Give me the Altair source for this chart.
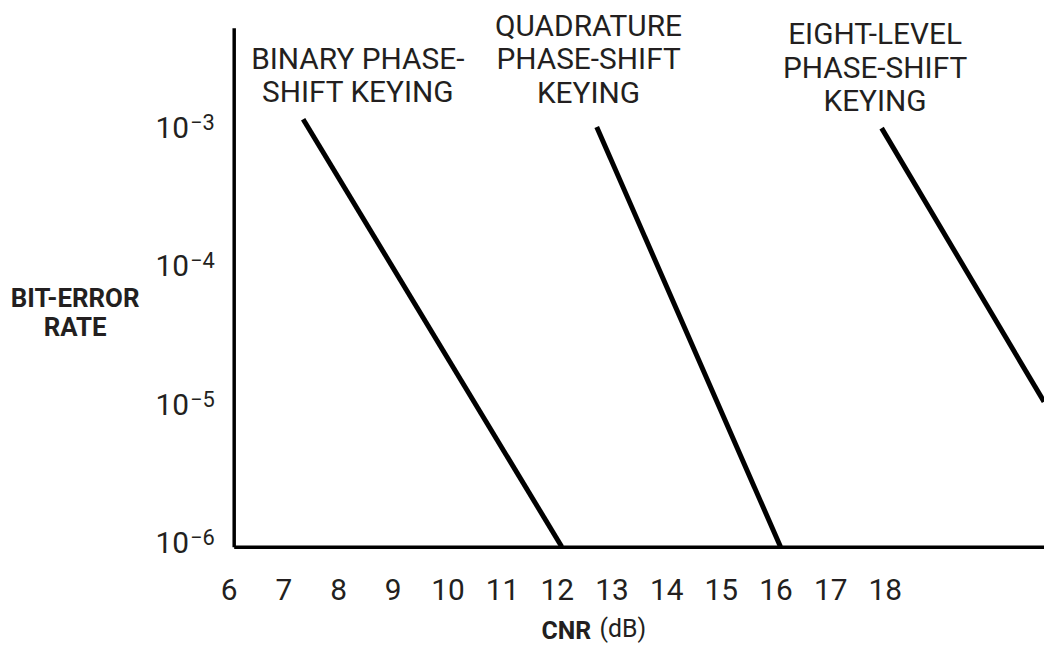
import altair as alt
import pandas as pd

# ---- data ----
series_names = ["BPSK", "QPSK", "8PSK"]
cnr_start = [7.27, 12.64, 17.85]
ber_start = [1.24e-3, 1.09e-3, 1.07e-3]
cnr_end = [12.0, 16.0, 20.82]
ber_end = [1.0e-6, 1.0e-6, 1.12e-5]

label_text = [
    "BINARY PHASE-\nSHIFT KEYING",
    "QUADRATURE\nPHASE-SHIFT\nKEYING",
    "EIGHT-LEVEL\nPHASE-SHIFT\nKEYING",
]
label_cnr = [8.27, 12.49, 17.73]
label_ber = [3.35e-3, 5.8e-3, 5.07e-3]  # centre of each label's first line

x_ticks = [6, 7, 8, 9, 10, 11, 12, 13, 14, 15, 16, 17, 18]
y_ticks = [1e-6, 1e-5, 1e-4, 1e-3]
y_tick_base = ["10", "10", "10", "10"]
y_tick_exp = ["−6", "−5", "−4", "−3"]

FONT = "Roboto"
INK = "#231f20"
W, H = 815, 522

rows = []
for i, s in enumerate(series_names):
    rows.append({"series": s, "pt": 0, "cnr": cnr_start[i], "ber": ber_start[i]})
    rows.append({"series": s, "pt": 1, "cnr": cnr_end[i], "ber": ber_end[i]})
lines_df = pd.DataFrame(rows)
labels_df = pd.DataFrame({"text": label_text, "cnr": label_cnr, "ber": label_ber})
yt_df = pd.DataFrame({"ber": y_ticks, "base": y_tick_base, "exp": y_tick_exp})

x_scale = alt.Scale(domain=[6, 20.82], nice=False, zero=False)
y_scale = alt.Scale(type="log", domain=[1e-6, 0.0057], nice=False)

x_axis = alt.Axis(
    values=x_ticks, format="d", title="CNR", grid=False, ticks=False, tickSize=0,
    labelFontSize=30, labelFont=FONT, labelColor=INK, labelPadding=44,
    labelBaseline="middle", labelFlush=False, labelOffset=-5,
    labelOverlap=False, labelBound=False,
    domainColor="black", domainWidth=3.5,
    titleFont=FONT, titleFontSize=25, titleFontWeight="bold", titleColor=INK,
    titleX=334, titleY=84, titleAlign="center", titleBaseline="middle",
)
y_axis = alt.Axis(
    values=y_ticks, labels=False, title=["BIT-ERROR", "RATE"],
    grid=False, ticks=False, tickSize=0,
    domainColor="black", domainWidth=3.5,
    titleFont=FONT, titleFontSize=26, titleFontWeight="bold", titleColor=INK,
    titleAngle=0, titleX=-160, titleY=272, titleAlign="center",
    titleBaseline="middle", titleLineHeight=30,
)

lines = alt.Chart(lines_df).mark_line(color="black", strokeWidth=5, clip=True).encode(
    x=alt.X("cnr:Q", scale=x_scale, axis=x_axis),
    y=alt.Y("ber:Q", scale=y_scale, axis=y_axis),
    detail="series:N",
    order="pt:Q",
)

texts = alt.Chart(labels_df).mark_text(
    font=FONT, fontSize=30, color=INK, align="center", baseline="middle",
    lineBreak="\n", lineHeight=34,
).encode(
    x=alt.X("cnr:Q", scale=x_scale),
    y=alt.Y("ber:Q", scale=y_scale),
    text="text:N",
)

# y tick labels as 10 with a raised exponent
ybase = alt.Chart(yt_df).mark_text(
    font=FONT, fontSize=30, color=INK, align="right", baseline="middle", dy=-3,
).encode(
    x=alt.value(-45),
    y=alt.Y("ber:Q", scale=y_scale),
    text="base:N",
)
yexp = alt.Chart(yt_df).mark_text(
    font=FONT, fontSize=22, color=INK, align="left", baseline="middle", dy=-9,
).encode(
    x=alt.value(-44),
    y=alt.Y("ber:Q", scale=y_scale),
    text="exp:N",
)

chart = alt.layer(lines, texts, ybase, yexp).properties(
    width=W, height=H,
    background="white",
    title=alt.TitleParams(
        text="(dB)", orient="bottom", anchor="start", frame="group",
        dx=368, dy=-30, font=FONT, fontSize=25, fontWeight="normal", color=INK,
    ),
    autosize=alt.AutoSizeParams(type="none"),
    padding={"left": 227, "top": 18, "right": 0, "bottom": 98},
).configure_view(stroke=None, strokeWidth=0).configure_axis(grid=False)

chart.save("out.html", embed_options={"renderer": "svg", "actions": False})
